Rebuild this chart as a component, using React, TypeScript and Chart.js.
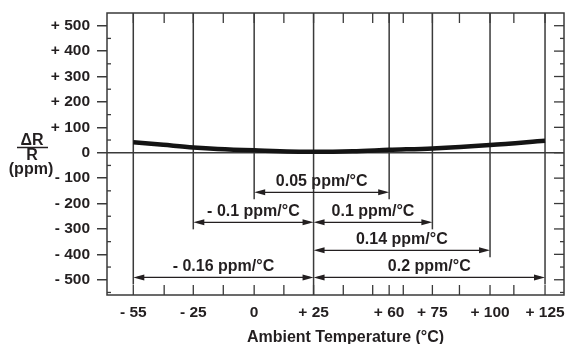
import React, { useEffect, useRef } from 'react';
import { Chart, registerables } from 'chart.js';

Chart.register(...registerables);

// ---- axis categories (the original temperature axis is not linear) ----
const tempLabels = ['- 55', '- 25', '0', '+ 25', '+ 60', '+ 75', '+ 100', '+ 125'];
const temps = [-55, -25, 0, 25, 60, 75, 100, 125];
const tempAxisPos = [0, 2.04, 4.11, 6.13, 8.7, 10.17, 12.13, 14];
const minorTickPos = [1.05, 3.06, 5.12, 7.14, 8.14, 9.18, 11.09, 12.94];
const refTemp = 25;

// ---- y ticks ----
const yTickValues = [500, 400, 300, 200, 100, 0, -100, -200, -300, -400, -500];

// ---- curve: ΔR/R (ppm) vs temperature ----
const curveTemps = [-55, -40, -25, -15, 0, 25, 43, 60, 75, 100, 125];
const curveValues = [41, 31, 21, 15, 9.5, 4, 6, 11.5, 17, 30, 47];

// ---- TCR spans ----
const arrowFrom = [0, -25, 25, 25, -55, 25];
const arrowTo = [60, 25, 75, 100, 25, 125];
const arrowLevel = [-156, -274, -274, -384, -491, -491];
const arrowText = ['0.05 ppm/°C', '- 0.1 ppm/°C', '0.1 ppm/°C', '0.14 ppm/°C', '- 0.16 ppm/°C', '0.2 ppm/°C'];

const INK = '#231f20';
const LINE = '#3a3a3a';

function tempToPos(t: number): number {
  for (let i = 0; i < temps.length - 1; i++) {
    if (t <= temps[i + 1]) {
      const f = (t - temps[i]) / (temps[i + 1] - temps[i]);
      return tempAxisPos[i] + f * (tempAxisPos[i + 1] - tempAxisPos[i]);
    }
  }
  return tempAxisPos[tempAxisPos.length - 1];
}

function seg(ctx: CanvasRenderingContext2D, x1: number, y1: number, x2: number, y2: number) {
  ctx.beginPath();
  ctx.moveTo(x1, y1);
  ctx.lineTo(x2, y2);
  ctx.stroke();
}

const overlay = {
  id: 'overlay',
  beforeDatasetsDraw(chart: any) {
    const { ctx, chartArea: a, scales } = chart;
    const x = scales.x;
    const y = scales.y;
    ctx.save();
    ctx.strokeStyle = LINE;
    ctx.lineWidth = 1.5;
    // zero line
    const y0 = y.getPixelForValue(0);
    seg(ctx, a.left, y0, a.right, y0);
    // vertical temperature lines
    temps.forEach((t) => {
      const px = x.getPixelForValue(tempToPos(t));
      let bottom = a.bottom;
      if (t !== refTemp) {
        let lowest = Infinity;
        for (let i = 0; i < arrowFrom.length; i++) {
          if (arrowFrom[i] === t || arrowTo[i] === t) lowest = Math.min(lowest, arrowLevel[i]);
        }
        bottom = y.getPixelForValue(lowest) + 7;
      }
      seg(ctx, px, a.top, px, bottom);
    });
    // frame
    ctx.strokeRect(a.left, a.top, a.right - a.left, a.bottom - a.top);
    // x ticks (inward, top and bottom)
    ctx.lineWidth = 1.3;
    tempAxisPos.concat(minorTickPos).forEach((p) => {
      const px = x.getPixelForValue(p);
      seg(ctx, px, a.bottom, px, a.bottom - 10);
      seg(ctx, px, a.top, px, a.top + 10);
    });
    // right major ticks (inward), minor ticks both sides
    yTickValues.forEach((v) => {
      const py = y.getPixelForValue(v);
      seg(ctx, a.right, py, a.right - 10, py);
    });
    for (let v = -550; v <= 550; v += 100) {
      const py = y.getPixelForValue(v);
      if (py < a.top + 1 || py > a.bottom - 1) continue;
      seg(ctx, a.left, py, a.left + 4, py);
      seg(ctx, a.right, py, a.right - 4, py);
    }
    ctx.restore();
  },
  afterDatasetsDraw(chart: any) {
    const { ctx, chartArea: a, scales } = chart;
    const x = scales.x;
    const y = scales.y;
    ctx.save();
    ctx.strokeStyle = INK;
    ctx.fillStyle = INK;
    ctx.lineWidth = 1.3;
    for (let i = 0; i < arrowFrom.length; i++) {
      const x1 = x.getPixelForValue(tempToPos(arrowFrom[i]));
      const x2 = x.getPixelForValue(tempToPos(arrowTo[i]));
      const py = y.getPixelForValue(arrowLevel[i]);
      seg(ctx, x1 + 4, py, x2 - 4, py);
      const hl = 11;
      const hw = 3;
      ctx.beginPath();
      ctx.moveTo(x1, py);
      ctx.lineTo(x1 + hl, py - hw);
      ctx.lineTo(x1 + hl, py + hw);
      ctx.closePath();
      ctx.fill();
      ctx.beginPath();
      ctx.moveTo(x2, py);
      ctx.lineTo(x2 - hl, py - hw);
      ctx.lineTo(x2 - hl, py + hw);
      ctx.closePath();
      ctx.fill();
      ctx.font = 'bold 16px "Liberation Sans", Arial, sans-serif';
      ctx.textAlign = 'center';
      ctx.textBaseline = 'alphabetic';
      ctx.fillText(arrowText[i], (x1 + x2) / 2, py - 6);
    }
    // y-axis label: ΔR / R (ppm)
    const cx = 32;
    ctx.font = 'bold 16px "Liberation Sans", Arial, sans-serif';
    ctx.textAlign = 'center';
    ctx.textBaseline = 'alphabetic';
    ctx.fillText('ΔR', cx, 144.5);
    ctx.lineWidth = 1.5;
    seg(ctx, 17, 147.5, 48, 147.5);
    ctx.fillText('R', cx, 159.5);
    ctx.fillText('(ppm)', cx - 1, 173.5);
    // x-axis title
    ctx.fillText('Ambient Temperature (°C)', (a.left + a.right) / 2 + 10, 341.5);
    ctx.restore();
  },
};

export default function App() {
  const ref = useRef<HTMLCanvasElement>(null);
  useEffect(() => {
    if (!ref.current) return;
    const tickFont = { family: '"Liberation Sans", Arial, sans-serif', size: 15.5, weight: 'bold' as const };
    const chart = new Chart(ref.current, {
      type: 'line',
      data: {
        datasets: [
          {
            data: curveTemps.map((t, i) => ({ x: tempToPos(t), y: curveValues[i] })),
            borderColor: '#141414',
            borderWidth: 4.5,
            pointRadius: 0,
            tension: 0.4,
            cubicInterpolationMode: 'monotone',
            fill: false,
          },
        ],
      },
      options: {
        responsive: false,
        animation: false,
        devicePixelRatio: 1,
        layout: { padding: { left: 0, right: 2, top: 13, bottom: 0 } },
        plugins: { legend: { display: false }, tooltip: { enabled: false }, title: { display: false } },
        scales: {
          x: {
            type: 'linear',
            position: 'bottom',
            min: -0.894,
            max: 14.645,
            afterBuildTicks: (s: any) => {
              s.ticks = tempAxisPos.map((v) => ({ value: v }));
            },
            afterFit: (s: any) => {
              s.height = 49;
              s.paddingLeft = 0;
              s.paddingRight = 0;
            },
            grid: { display: false },
            border: { display: false },
            ticks: {
              autoSkip: false,
              maxRotation: 0,
              padding: 0,
              color: INK,
              font: tickFont,
              callback: (_v: any, i: number) => tempLabels[i],
            },
          },
          y: {
            type: 'linear',
            min: -560,
            max: 550,
            afterBuildTicks: (s: any) => {
              s.ticks = yTickValues.map((v) => ({ value: v }));
            },
            afterFit: (s: any) => {
              s.width = 107;
              s.paddingTop = 0;
              s.paddingBottom = 0;
            },
            grid: { display: true, drawOnChartArea: false, drawTicks: true, tickLength: 10, color: LINE, lineWidth: 1.5 },
            border: { display: false },
            ticks: {
              padding: 7,
              color: INK,
              font: tickFont,
              callback: (v: any) => {
                const n = Number(v);
                return n > 0 ? '+ ' + n : n < 0 ? '- ' + -n : '0';
              },
            },
          },
        },
      },
      plugins: [overlay],
    });
    return () => chart.destroy();
  }, []);
  return (
    <div style={{ position: 'fixed', left: 0, top: 0, width: 566, height: 344, background: '#fff' }}>
      <canvas ref={ref} width={566} height={344} style={{ width: 566, height: 344, display: 'block' }} />
    </div>
  );
}
